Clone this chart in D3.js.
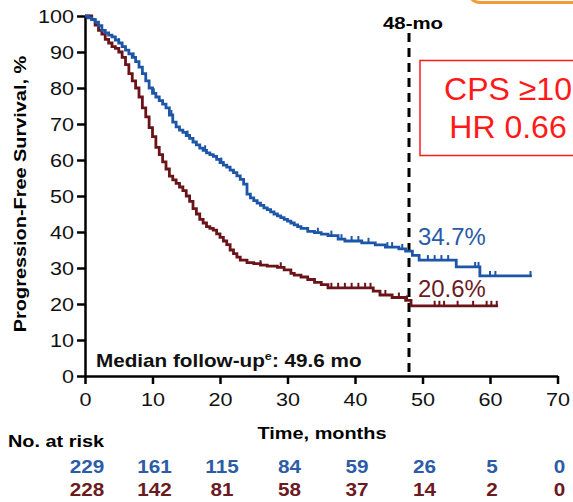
<!DOCTYPE html>
<html>
<head>
<meta charset="utf-8">
<script src="https://cdn.jsdelivr.net/npm/d3@7/dist/d3.min.js"></script>
<style>
html,body{margin:0;padding:0;background:#fff;}
svg{display:block;}
text{font-family:"Liberation Sans",Arial,Helvetica,sans-serif;}
</style>
</head>
<body>
<svg id="chart" width="573" height="502"></svg>
<script>
// ---------- DATA ----------
const xTicks = [0, 10, 20, 30, 40, 50, 60, 70];
const yTicks = [0, 10, 20, 30, 40, 50, 60, 70, 80, 90, 100];

// Kaplan-Meier step points [month, survival %]
const blueCurve = [
  [0,100],[0.5,99.5],[1,99],[1.5,98.3],[2,97.3],[2.5,96],[3,95.3],[3.5,94.7],[4,94.2],[4.5,93.3],
  [5,92.5],[5.5,91.5],[6,90.5],[6.5,89.5],[7,88.5],[7.5,87.3],[8,85.8],[8.5,84],[9,82],[9.5,80],
  [10,78.5],[10.5,77.5],[11,76.5],[11.5,75.5],[12,74.5],[12.5,72.5],[13,70.5],[13.5,69.2],[14,68.3],[14.5,67.7],
  [15,66.8],[15.5,66],[16,65],[16.5,64.2],[17,63.3],[17.5,62.7],[18,62],[18.5,61.5],[19,61],[19.5,60.2],
  [20,59.3],[20.5,58.6],[21,58],[21.5,57.2],[22,56.5],[22.5,55.6],[23,54.6],[23.5,53.3],[24,50.5],[24.5,49.5],
  [25,48.7],[25.5,48],[26,47.4],[26.5,46.7],[27,46.2],[27.5,45.6],[28,45],[28.5,44.5],[29,44],[29.5,43.5],
  [30,43],[30.5,42.5],[31,42],[31.5,41.5],[32,41],[33,40.2],[34,39.8],[35,39.4],[36,39],[37.5,38],
  [38.5,37.5],[41,37],[43,36.4],[44.5,35.8],[46.5,35.3],[47.5,34.7],[48.5,33.5],[49.5,32.2],[55,30.3],[58.5,27.8],
  [66.2,27.8]
];
const redCurve = [
  [0,100],[1,99],[1.5,97.5],[2,96],[2.5,95],[3,93.5],[3.5,92.5],[4,91.5],[4.5,91],[5,90],
  [5.5,88.5],[6,86.5],[6.5,84],[7,82],[7.5,80],[8,77.5],[8.5,74.5],[9,72],[9.5,69],[10,66.5],
  [10.5,63.5],[11,61.5],[11.5,59.5],[12,57.5],[12.5,55.5],[13,54.5],[13.5,53.5],[14,52.5],[14.5,51.5],[15,50],
  [15.5,48.5],[16,46.5],[16.5,45],[17,43.5],[17.5,42.5],[18,41.5],[18.5,41],[19,40.5],[19.5,39.5],[20,38.5],
  [20.5,37.5],[21,36.5],[21.5,35],[22,34],[22.5,33],[23,32.2],[24,31.5],[25,31.2],[26,30.8],[27,30.5],
  [28.5,30.2],[29.5,29.5],[30.5,28.5],[31,28],[32,27.5],[33,26.8],[34,26],[35,25.4],[36,24.5],[42.7,23.6],
  [43.7,22.5],[45.5,21.8],[47.5,21],[48.3,19.5],[61.2,19.5]
];
const blueCensor = [5, 7.2, 10.2, 12.8, 15.2, 17.8, 20.2, 34.5, 36.5, 38, 39.5, 40.5, 42, 44.8, 45.5, 47, 50.8, 51.8, 52.8, 53.8, 57.8, 58.3, 60, 60.8, 66];
const redCensor = [26, 29, 36.5, 37.5, 38.5, 39.5, 40.5, 41.5, 42.3, 44.5, 46.5, 47.7, 51.8, 52.5, 53.2, 55.2, 57.5, 59.5, 60.2, 61];

const riskBlue = [229, 161, 115, 84, 59, 26, 5, 0];
const riskRed  = [228, 142, 81, 58, 37, 14, 2, 0];

const blueLabel = "34.7%";
const redLabel = "20.6%";
const landmark = 48;

// ---------- LAYOUT ----------
const BLUE = "#1d56a8", RED = "#6a1419";
const svg = d3.select("#chart");
const x = d3.scaleLinear().domain([0, 70]).range([85, 557.5]);
const y = d3.scaleLinear().domain([0, 100]).range([376, 16]);

function txt(g, px, py, s, o) {
  o = o || {};
  const t = g.append("text")
    .attr("transform", `translate(${px},${py}) scale(${o.sx || 1},1)` + (o.rot ? ` rotate(${o.rot})` : ""))
    .attr("font-size", o.size || 17)
    .attr("font-weight", o.weight || "normal")
    .attr("fill", o.fill || "#000")
    .attr("text-anchor", o.anchor || "start")
    .text(s);
  return t;
}

// orange shape at top right (partial)
svg.append("rect").attr("x", 468).attr("y", -40).attr("width", 160).attr("height", 42.5)
  .attr("rx", 12).attr("fill", "none").attr("stroke", "#f39a3a").attr("stroke-width", 3);

// red annotation box
svg.append("rect").attr("x", 420).attr("y", 60.5).attr("width", 170).attr("height", 95)
  .attr("fill", "#fff").attr("stroke", "#ff1a1a").attr("stroke-width", 1.5);
txt(svg, 508, 100, "CPS \u226510", {size: 32, fill: "#ff1a1a", anchor: "middle"});
txt(svg, 508, 138, "HR 0.66", {size: 32, fill: "#ff1a1a", anchor: "middle"});

// axes
const gx = svg.append("g").attr("transform", "translate(0,376)")
  .call(d3.axisBottom(x).tickValues(xTicks).tickSize(8).tickSizeOuter(0));
const gy = svg.append("g").attr("transform", "translate(85,0)")
  .call(d3.axisLeft(y).tickValues(yTicks).tickSize(8).tickSizeOuter(0));
[gx, gy].forEach(g => {
  g.select(".domain").attr("stroke", "#000").attr("stroke-width", 2.5);
  g.selectAll(".tick line").attr("stroke", "#000").attr("stroke-width", 2.5);
  g.selectAll(".tick text").attr("font-size", 18).attr("fill", "#111")
    .attr("font-family", '"Liberation Sans",Arial,sans-serif');
});
gx.selectAll(".tick text").attr("y", 30).attr("dy", 0).attr("transform", "scale(1.2,1)");
gy.selectAll(".tick text").attr("x", -11 / 1.2).attr("dy", "0.36em").attr("transform", "scale(1.2,1)");

// axis titles
txt(svg, 322, 439, "Time, months", {size: 17, weight: "bold", anchor: "middle", sx: 1.17});
svg.append("text")
  .attr("transform", "translate(26,194) rotate(-90) scale(1.17,1)")
  .attr("font-size", 17).attr("font-weight", "bold").attr("text-anchor", "middle")
  .text("Progression-Free Survival, %");

// landmark dashed line
svg.append("line").attr("x1", x(landmark)).attr("x2", x(landmark)).attr("y1", 33).attr("y2", 376)
  .attr("stroke", "#000").attr("stroke-width", 3).attr("stroke-dasharray", "9,6");
txt(svg, x(landmark) + 4, 29, "48-mo", {size: 17, weight: "bold", anchor: "middle", sx: 1.2});

// curves
const line = d3.line().x(d => x(d[0])).y(d => y(d[1])).curve(d3.curveStepAfter);
function stepVal(curve, t) {
  let v = curve[0][1];
  for (const p of curve) { if (p[0] <= t) v = p[1]; else break; }
  return v;
}
function drawCurve(curve, censor, color) {
  svg.append("path").datum(curve).attr("d", line)
    .attr("fill", "none").attr("stroke", color).attr("stroke-width", 2.8).attr("stroke-linejoin", "miter");
  svg.append("g").selectAll("line").data(censor).join("line")
    .attr("x1", d => x(d)).attr("x2", d => x(d))
    .attr("y1", d => y(stepVal(curve, d)))
    .attr("y2", d => y(stepVal(curve, d)) - 5)
    .attr("stroke", color).attr("stroke-width", 2);
}
drawCurve(redCurve, redCensor, RED);
drawCurve(blueCurve, blueCensor, BLUE);

// percent labels
txt(svg, 418, 245, blueLabel, {size: 23, fill: "#2b5aa6", sx: 1.04});
txt(svg, 418, 297, redLabel, {size: 23, fill: "#6b1a1f", sx: 1.04});

// median follow-up
const mt = svg.append("text").attr("transform", "translate(96,367) scale(1.15,1)")
  .attr("font-size", 18).attr("font-weight", "bold").attr("fill", "#111");
mt.append("tspan").text("Median follow-up");
mt.append("tspan").attr("font-size", 11).attr("dy", -7).text("e");
mt.append("tspan").attr("dy", 7).text(": 49.6 mo");

// number at risk
txt(svg, 8, 447, "No. at risk", {size: 17, weight: "bold", sx: 1.17});
riskBlue.forEach((v, i) => txt(svg, x(xTicks[i]) + 2, 473, String(v), {size: 18, weight: "bold", fill: "#2c5ca8", anchor: "middle", sx: 1.15}));
riskRed.forEach((v, i) => txt(svg, x(xTicks[i]) + 2, 496, String(v), {size: 18, weight: "bold", fill: "#6b1a1f", anchor: "middle", sx: 1.15}));
</script>
</body>
</html>
